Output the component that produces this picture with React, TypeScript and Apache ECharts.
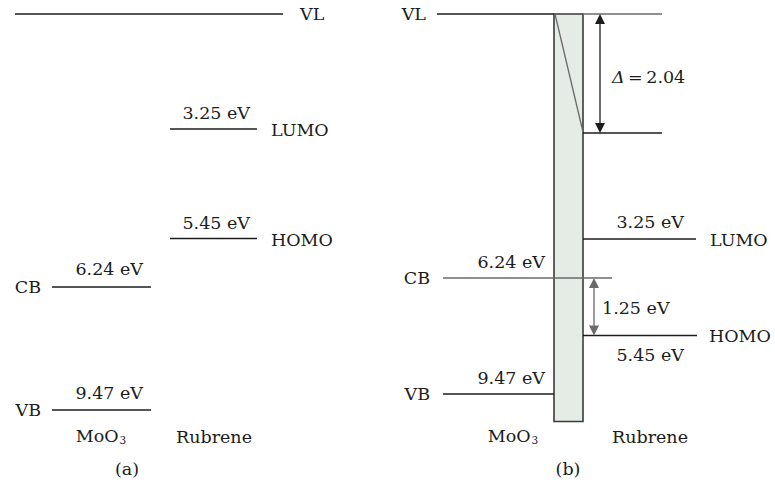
import React, { useEffect, useRef } from "react";
import * as echarts from "echarts";

// Schematic energy-level diagram. Horizontal unit: diagram column position; vertical unit: schematic depth below the top of the figure.

// Panel (a) — isolated materials: [from, to, depth, tone]
const levelLinesA: number[][] = [
  [15, 283, 14, 0], // VL
  [170, 257, 129, 0], // Rubrene LUMO
  [170, 257, 238.5, 0], // Rubrene HOMO
  [52, 151, 287, 0], // MoO3 CB
  [52, 151, 410, 0], // MoO3 VB
];

// Panel (b) — interface
const levelLinesB: number[][] = [
  [437, 554, 14, 0], // VL (MoO3 side)
  [583, 662, 14, 1], // VL (Rubrene side)
  [583, 662, 133, 0], // shifted VL
  [583, 696, 239, 0], // LUMO
  [583, 697, 335.5, 0], // HOMO
  [443, 612, 278, 1], // CB
  [443, 554, 394, 0], // VB
];

// interface dipole layer: [left, right, top, bottom]
const interfaceBand: number[][] = [[554, 583, 14, 421.5]];
// potential drop inside the layer: [x1, y1, x2, y2]
const slopeLine: number[][] = [[555, 14, 583, 132]];
// double arrows: [x, y1, y2, tone]
const arrowsB: number[][] = [
  [600, 14, 133, 0], // Δ = 2.04
  [594, 278, 335.5, 1], // 1.25 eV
];

// Texts
const labelTexts = [
  // (a)
  "VL", "3.25 eV", "LUMO", "5.45 eV", "HOMO", "CB", "6.24 eV", "VB", "9.47 eV",
  "MoO{sub|3}", "Rubrene", "(a)",
  // (b)
  "VL", "{it|Δ}\u2009=\u20092.04", "3.25 eV", "LUMO", "CB", "6.24 eV", "1.25 eV",
  "HOMO", "5.45 eV", "VB", "9.47 eV", "MoO{sub|3}", "Rubrene", "(b)",
];
const labelX = [
  300, 250, 271, 250, 271, 41, 143, 41, 143, 101, 214, 127,
  426, 612, 684, 710, 430, 545, 602, 709, 684, 430, 545, 513, 650, 568,
];
const labelY = [
  14, 113, 130, 223, 240, 287, 268.5, 410, 393, 436, 437, 469,
  14, 77, 222, 239.5, 278, 262, 308, 336, 355, 394, 378, 436, 437, 469,
];
const labelAlign = [
  "left", "right", "left", "right", "left", "right", "right", "right", "right", "center", "center", "center",
  "right", "left", "right", "left", "right", "right", "left", "left", "right", "right", "right", "center", "center", "center",
];

const tones = ["#1c1c1c", "#6a6a6a"];
const FONT = "DejaVu Serif";
const FS = 17.5;

export default function App() {
  const ref = useRef<HTMLDivElement>(null);
  useEffect(() => {
    document.body.style.margin = "0";
    const chart = echarts.init(ref.current!, undefined, { renderer: "svg" });
    const lineData = [...levelLinesA, ...levelLinesB];
    chart.setOption({
      animation: false,
      backgroundColor: "#ffffff",
      grid: { left: 0, right: 0, top: 0, bottom: 0 },
      xAxis: { type: "value", min: 0, max: 775, show: false },
      yAxis: { type: "value", min: 0, max: 484, inverse: true, show: false },
      series: [
        {
          type: "custom",
          name: "band",
          data: interfaceBand,
          renderItem: (params: any, api: any) => {
            const p1 = api.coord([api.value(0), api.value(2)]);
            const p2 = api.coord([api.value(1), api.value(3)]);
            return {
              type: "rect",
              shape: { x: p1[0], y: p1[1], width: p2[0] - p1[0], height: p2[1] - p1[1] },
              style: { fill: "#e5ebe5", stroke: "#3a3a3a", lineWidth: 1.6 },
            };
          },
        },
        {
          type: "custom",
          name: "levels",
          data: lineData,
          renderItem: (params: any, api: any) => {
            const p1 = api.coord([api.value(0), api.value(2)]);
            const p2 = api.coord([api.value(1), api.value(2)]);
            return {
              type: "line",
              shape: { x1: p1[0], y1: p1[1], x2: p2[0], y2: p2[1] },
              style: { stroke: tones[api.value(3)], lineWidth: 1.3 },
            };
          },
        },
        {
          type: "custom",
          name: "slope",
          data: slopeLine,
          renderItem: (params: any, api: any) => {
            const p1 = api.coord([api.value(0), api.value(1)]);
            const p2 = api.coord([api.value(2), api.value(3)]);
            return {
              type: "line",
              shape: { x1: p1[0], y1: p1[1], x2: p2[0], y2: p2[1] },
              style: { stroke: "#6a6a6a", lineWidth: 1.3 },
            };
          },
        },
        {
          type: "custom",
          name: "arrows",
          data: arrowsB,
          renderItem: (params: any, api: any) => {
            const a = api.coord([api.value(0), api.value(1)]);
            const b = api.coord([api.value(0), api.value(2)]);
            const c = tones[api.value(3)];
            const hw = 5;
            const hl = 10;
            return {
              type: "group",
              children: [
                {
                  type: "line",
                  shape: { x1: a[0], y1: a[1] + 4, x2: b[0], y2: b[1] - 4 },
                  style: { stroke: c, lineWidth: 1.3 },
                },
                {
                  type: "polygon",
                  shape: { points: [[a[0], a[1]], [a[0] - hw, a[1] + hl], [a[0] + hw, a[1] + hl]] },
                  style: { fill: c },
                },
                {
                  type: "polygon",
                  shape: { points: [[b[0], b[1]], [b[0] - hw, b[1] - hl], [b[0] + hw, b[1] - hl]] },
                  style: { fill: c },
                },
              ],
            };
          },
        },
        {
          type: "custom",
          name: "labels",
          data: labelX.map((x, i) => [x, labelY[i]]),
          renderItem: (params: any, api: any) => {
            const p = api.coord([api.value(0), api.value(1)]);
            const i = params.dataIndex;
            return {
              type: "text",
              x: p[0],
              y: p[1],
              style: {
                text: labelTexts[i],
                fill: "#1c1c1c",
                font: `${FS}px '${FONT}'`,
                fontFamily: FONT,
                fontSize: FS,
                align: labelAlign[i],
                verticalAlign: "middle",
                rich: {
                  sub: {
                    fontSize: 10.5,
                    fontFamily: FONT,
                    verticalAlign: "bottom",
                    lineHeight: 6,
                    fill: "#1c1c1c",
                    padding: [0, 0, 0, 1],
                  },
                  it: { fontSize: FS, fontFamily: FONT, fontStyle: "italic", fill: "#1c1c1c" },
                },
              },
            };
          },
        },
      ],
    });
    return () => chart.dispose();
  }, []);
  return <div ref={ref} style={{ width: 775, height: 484 }} />;
}
